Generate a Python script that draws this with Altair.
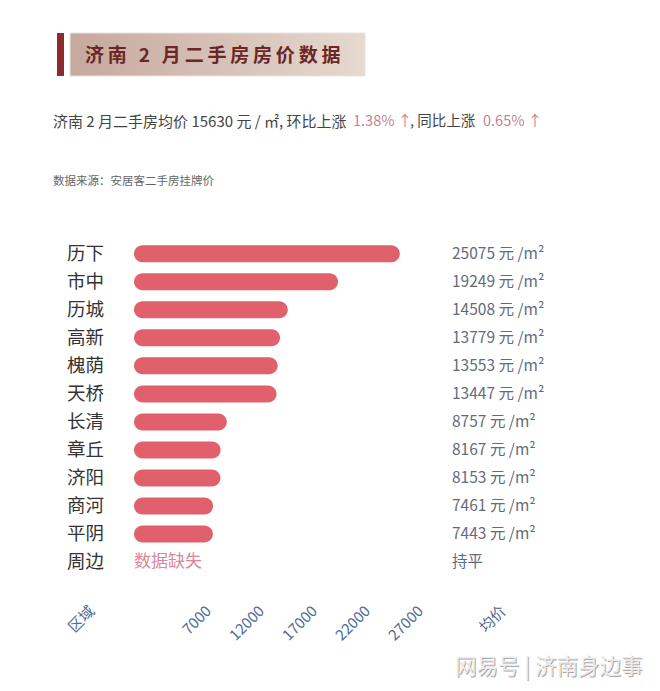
import altair as alt
import pandas as pd

FONT = "Noto Sans CJK SC"

# ---------------- data ----------------
districts = ["历下", "市中", "历城", "高新", "槐荫", "天桥", "长清", "章丘", "济阳", "商河", "平阴", "周边"]
prices = [25075, 19249, 14508, 13779, 13553, 13447, 8757, 8167, 8153, 7461, 7443, None]
unit = "元 /m²"
missing_bar_text = "数据缺失"
missing_value_text = "持平"
tick_values = [7000, 12000, 17000, 22000, 27000]
axis_left_label = "区域"
axis_right_label = "均价"

title_text = "济南 2 月二手房房价数据"
subtitle_texts = ["济南 2 月二手房均价 15630 元 / ㎡, 环比上涨", "1.38% ↑", ", 同比上涨", "0.65% ↑"]
source_text = "数据来源：安居客二手房挂牌价"
watermark_text = "网易号 | 济南身边事"

rows = []
for i, (d, p) in enumerate(zip(districts, prices)):
    rows.append({
        "row": i,
        "district": d,
        "start": 0,
        "price": p,
        "value_label": f"{p} {unit}" if p is not None else missing_value_text,
        "missing_label": missing_bar_text if p is None else "",
    })
df = pd.DataFrame(rows)
one = pd.DataFrame({"k": [0]})

# title with slight letter spacing (thin spaces between glyphs)
spaced_title = "\u2009".join(title_text)

# ---------------- scales ----------------
xs = alt.Scale(domain=[-12642, 49623], nice=False, zero=False)
ys = alt.Scale(domain=[-8.877, 12.176], nice=False, zero=False, reverse=True)

left_pos, right_pos = -4000, 34800
label_expr = (
    f"datum.value < 0 ? '{axis_left_label}' : "
    f"(datum.value > 30000 ? '{axis_right_label}' : datum.label)"
)
AX = alt.Axis(
    values=[left_pos] + tick_values + [right_pos],
    labelExpr=label_expr,
    format="d",
    title=None,
    domain=False,
    ticks=False,
    grid=False,
    labelAngle=315,
    labelAlign="right",
    labelBaseline="middle",
    labelPadding=8,
    labelFontSize=15,
    labelColor="#4e6a97",
    labelFont=FONT,
    labelOverlap=False,
    labelFlush=False,
)

def X(field):
    return alt.X(field, type="quantitative", scale=xs, axis=AX)

def Y():
    return alt.Y("row:Q", scale=ys, axis=None)

base = alt.Chart(df)

bars = base.transform_filter("isValid(datum.price)").mark_bar(
    size=17, cornerRadius=8.5, color="#e0616b"
).encode(x=X("start"), x2="price:Q", y=Y())

missing = base.transform_filter("!isValid(datum.price)").mark_text(
    align="left", baseline="middle", fontSize=17, color="#d9879a", font=FONT
).encode(x=X("start"), y=Y(), text="missing_label:N")

names = base.mark_text(
    align="left", baseline="middle", fontSize=18.5, color="#333333", font=FONT
).encode(x=alt.value(67), y=Y(), text="district:N")

values = base.mark_text(
    align="left", baseline="middle", fontSize=15.5, color="#636b7a", font=FONT
).encode(x=alt.value(452), y=Y(), text="value_label:N")

# ---------------- decorations ----------------
deco = alt.Chart(one)
title_box = deco.mark_rect(
    color=alt.LinearGradient(
        gradient="linear",
        stops=[alt.GradientStop(color="#c6a89d", offset=0),
               alt.GradientStop(color="#e6d9cf", offset=1)],
        x1=0, x2=1, y1=0, y2=0,
    ),
    stroke="#ece3dc", strokeWidth=1,
).encode(x=alt.value(70), x2=alt.value(365), y=alt.value(33), y2=alt.value(76))

title_bar = deco.mark_rect(color="#8a2b2d").encode(
    x=alt.value(57), x2=alt.value(64), y=alt.value(33), y2=alt.value(76))

title = deco.mark_text(
    align="left", baseline="middle", fontSize=19, fontWeight="bold",
    color="#6b2626", font=FONT,
).encode(x=alt.value(85), y=alt.value(56), text=alt.value(spaced_title))

sub_x = [53, 353, 410, 483]
sub_c = ["#444444", "#c4848f", "#444444", "#c4848f"]
sub_s = [15, 14.5, 14.5, 14.5]
subs = [
    deco.mark_text(align="left", baseline="middle", fontSize=s, color=c, font=FONT)
    .encode(x=alt.value(xx), y=alt.value(122), text=alt.value(t))
    for t, xx, c, s in zip(subtitle_texts, sub_x, sub_c, sub_s)
]

source = deco.mark_text(
    align="left", baseline="middle", fontSize=11.5, color="#666666", font=FONT
).encode(x=alt.value(53), y=alt.value(182), text=alt.value(source_text))

wm_shadow = deco.mark_text(
    align="left", baseline="middle", fontSize=21.5, color="#a8a8a8", font=FONT
).encode(x=alt.value(456), y=alt.value(669), text=alt.value(watermark_text))
wm = deco.mark_text(
    align="left", baseline="middle", fontSize=21.5, color="#ececec", font=FONT
).encode(x=alt.value(455), y=alt.value(668), text=alt.value(watermark_text))

chart = alt.layer(
    title_box, title_bar, title, *subs, source,
    bars, missing, names, values, wm_shadow, wm,
).properties(
    width=660, height=600,
    autosize=alt.AutoSizeParams(type="none"),
    padding={"left": 0, "top": 0, "right": 0, "bottom": 91},
    background="white",
).configure_view(stroke=None)

chart.save("out.html", embed_options={"renderer": "svg", "actions": False})
